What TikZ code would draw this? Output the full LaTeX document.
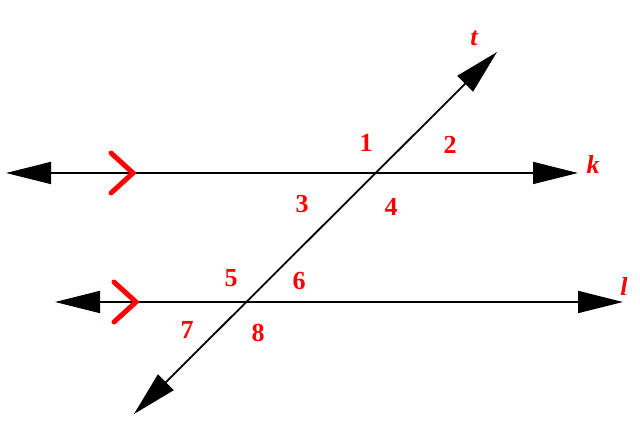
\documentclass[tikz,border=0pt]{standalone}
\usepackage{fontspec}
\setmainfont{Liberation Serif}
\usetikzlibrary{arrows.meta}
\begin{document}
\begin{tikzpicture}[x=1pt,y=-1pt,
  lineline/.style={line width=1.8pt,black,{Triangle[length=45pt,width=22pt]}-{Triangle[length=45pt,width=22pt]}},
  chev/.style={red,line width=5pt,line cap=round,line join=miter},
  lbl/.style={red,font=\fontsize{26}{26}\selectfont\bfseries,inner sep=0pt},
  vlbl/.style={red,font=\fontsize{26}{26}\selectfont\bfseries\itshape,inner sep=0pt}]
\useasboundingbox (0,0) rectangle (640,427);
% line k
\coordinate (kL) at (6,173);
\coordinate (kR) at (578,173);
\draw[lineline] (kL) -- (kR);
% line l
\coordinate (lL) at (55,302);
\coordinate (lR) at (623,302);
\draw[lineline] (lL) -- (lR);
% transversal t
\coordinate (tB) at (134,414);
\coordinate (tT) at (497,52);
\draw[lineline] (tB) -- (tT);
% chevrons
\coordinate (c1) at (133,173);
\coordinate (c2) at (136,302);
\draw[chev] ([shift={(-22,-20)}]c1) -- (c1) -- ([shift={(-22,20)}]c1);
\draw[chev] ([shift={(-22,-20)}]c2) -- (c2) -- ([shift={(-22,20)}]c2);
% angle labels
\node[lbl] (n1) at (366,143) {1};
\node[lbl] (n2) at (450,145) {2};
\node[lbl] (n3) at (302,204) {3};
\node[lbl] (n4) at (391,207) {4};
\node[lbl] (n5) at (231,278) {5};
\node[lbl] (n6) at (299,281) {6};
\node[lbl] (n7) at (187,330) {7};
\node[lbl] (n8) at (258,333) {8};
% line labels
\node[vlbl] (lt) at (474,38) {t};
\node[vlbl] (lk) at (593,164) {k};
\node[vlbl] (ll) at (624,286) {l};
\end{tikzpicture}
\end{document}
